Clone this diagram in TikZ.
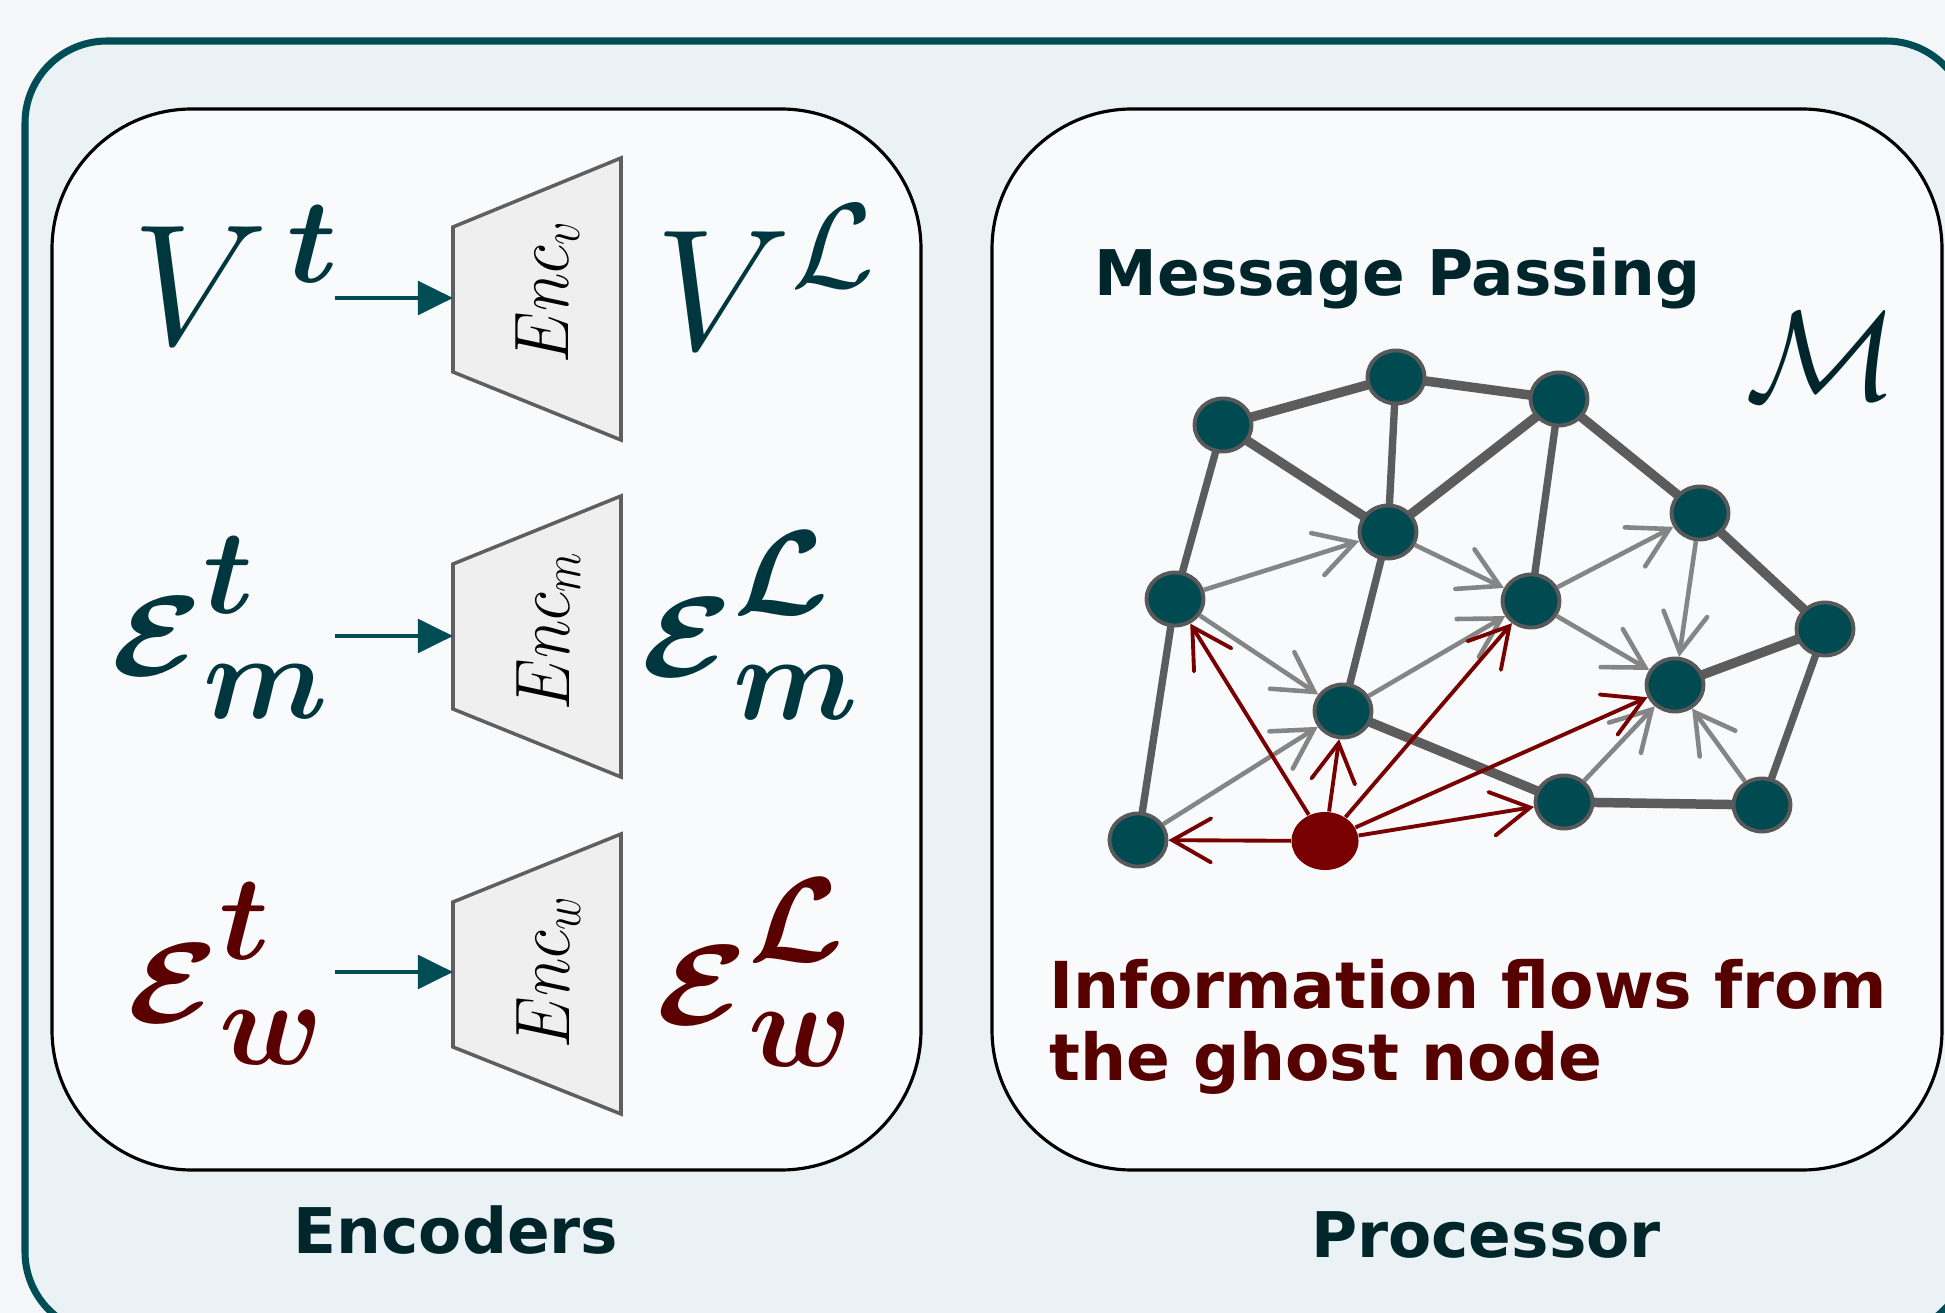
\RequirePackage{fix-cm}
\documentclass[tikz,border=0pt]{standalone}
\usepackage{fontspec}
\usepackage{graphicx}
\usepackage{bm}
\newfontfamily\dvs{DejaVu Sans}
\usetikzlibrary{arrows.meta,shapes.geometric}
\definecolor{bgc}{HTML}{F4F6F7}
\definecolor{outerfill}{HTML}{EAF2F5}
\definecolor{outerline}{HTML}{004D55}
\definecolor{panelfill}{HTML}{F8FAFC}
\definecolor{trapfill}{HTML}{EFEFEF}
\definecolor{trapline}{HTML}{5F5F5F}
\definecolor{encteal}{HTML}{004D55}
\definecolor{mathteal}{HTML}{00363D}
\definecolor{mathred}{HTML}{5A0000}
\definecolor{titlecol}{HTML}{00252A}
\definecolor{nodefill}{HTML}{004A52}
\definecolor{nodeline}{HTML}{595959}
\definecolor{edgecol}{HTML}{5C5C5C}
\definecolor{arrgray}{HTML}{858585}
\definecolor{ghostred}{HTML}{780000}
\definecolor{infored}{HTML}{560000}
\pgfdeclarelayer{back}
\pgfdeclarelayer{edges}
\pgfsetlayers{back,edges,main}
\newcommand{\calE}{\scalebox{0.77}[0.66]{\boldmath$\mathcal{E}$}}
\tikzset{
  panel/.style={draw=black, fill=panelfill, line width=0.9pt, rounded corners=1.4cm},
  trap/.style={draw=trapline, fill=trapfill, line width=1pt, line join=miter},
  encarrow/.style={draw=encteal, line width=1.3pt, -{Triangle[length=10pt,width=9.5pt]}},
  bigmath/.style={anchor=base west, inner sep=0, font=\fontsize{49}{55}\selectfont},
  enctext/.style={rotate=90, anchor=base, inner sep=0, font=\fontsize{22}{26}\selectfont},
  gnode/.style={ellipse, fill=nodefill, draw=nodeline, line width=1.1pt, minimum width=0.57cm, minimum height=0.53cm, inner sep=0},
  ghostnode/.style={ellipse, fill=ghostred, minimum width=0.67cm, minimum height=0.58cm, inner sep=0},
  thickedge/.style={draw=edgecol, line width=2.7pt},
  medge/.style={draw=edgecol, line width=2.1pt},
  garrow/.style={draw=arrgray, line width=1.3pt, -{Straight Barb[length=11pt,width=12.5pt,line cap=round]}},
  rarrow/.style={draw=ghostred, line width=1.1pt, -{Straight Barb[length=11pt,width=12.5pt,line cap=round]}},
  sanslabel/.style={inner sep=0, font=\dvs\bfseries\fontsize{17.9}{20.5}\selectfont}
}
\begin{document}
\begin{tikzpicture}[x=0.01cm,y=-0.01cm]
\useasboundingbox (0,0) rectangle (1945,1313);
\begin{pgfonlayer}{back}
  \fill[bgc] (0,0) rectangle (1945,1313);
  \draw[draw=outerline, fill=outerfill, line width=2pt, rounded corners=0.82cm] (25,41) rectangle (1968,1334);
  \draw[panel] (52,109) rectangle (921,1170);
  \draw[panel] (992,109) rectangle (1942,1170);
\end{pgfonlayer}

% ---------------- Encoders ----------------
\draw[trap] (453,227) -- (621,158) -- (621,440) -- (453,372) -- cycle;
\draw[trap] (453,564) -- (621,496) -- (621,777) -- (453,709) -- cycle;
\draw[trap] (453,902) -- (621,834) -- (621,1114) -- (453,1047) -- cycle;
\coordinate (encv) at (453,298);
\coordinate (encm) at (453,636);
\coordinate (encw) at (453,972);
\coordinate (srcv) at (335,298);
\coordinate (srcm) at (335,636);
\coordinate (srcw) at (335,972);

\node[enctext] (encvt) at (568,292) {\scalebox{0.85}[1]{$Enc_{v}$}};
\node[enctext] (encmt) at (569,631) {\scalebox{0.85}[1]{$Enc_{m}$}};
\node[enctext] (encwt) at (569,972) {\scalebox{0.85}[1]{$Enc_{w}$}};

\node[bigmath, text=mathteal] (Vt) at (132,345) {$V^{\kern0.11em\bm{t}}$};
\node[bigmath, text=mathteal] (VL) at (655,350) {$V^{\mathcal{L}}$};
\node[bigmath, text=mathteal] (Emt) at (111,676) {${\calE}^{\bm{t}}_{\bm{m}}$};
\node[bigmath, text=mathteal] (EmL) at (641,677) {${\calE}^{\bm{\mathcal{L}}}_{\bm{m}}$};
\node[bigmath, text=mathred] (Ewt) at (127,1022) {${\calE}^{\bm{t}}_{\bm{w}}$};
\node[bigmath, text=mathred] (EwL) at (656,1024) {${\calE}^{\bm{\mathcal{L}}}_{\bm{w}}$};

\draw[encarrow] (srcv) -- (encv);
\draw[encarrow] (srcm) -- (encm);
\draw[encarrow] (srcw) -- (encw);

\node[sanslabel, text=titlecol, anchor=base] (enclab) at (456,1253) {Encoders};

% ---------------- Processor ----------------
\node[sanslabel, text=titlecol, anchor=base west] (mp) at (1094,296) {Message Passing};
\node[inner sep=0, anchor=base west, text=titlecol, font=\fontsize{36}{40}\selectfont] (calM) at (1745,400) {$\mathcal{M}$};
\node[sanslabel, text=infored, anchor=north west, align=left, font=\dvs\bfseries\fontsize{18.4}{20.5}\selectfont] (info) at (1049,959) {Information flows from\\the ghost node};
\node[sanslabel, text=titlecol, anchor=base] (proclab) at (1486,1257) {Processor};

\node[gnode] (n1) at (1223,425) {};
\node[gnode] (n2) at (1396,377) {};
\node[gnode] (n3) at (1559,399) {};
\node[gnode] (n4) at (1700,513) {};
\node[gnode] (n5) at (1388,532) {};
\node[gnode] (n6) at (1175,599) {};
\node[gnode] (n7) at (1531,601) {};
\node[gnode] (n8) at (1825,629) {};
\node[gnode] (n9) at (1675,685) {};
\node[gnode] (n10) at (1343,711) {};
\node[gnode] (n11) at (1138,840) {};
\node[gnode] (n12) at (1564,802) {};
\node[gnode] (n13) at (1762,805) {};
\node[ghostnode] (g) at (1325,841) {};

\begin{pgfonlayer}{edges}
  \draw[thickedge] (n1.center) -- (n2.center);
  \draw[thickedge] (n2.center) -- (n3.center);
  \draw[thickedge] (n1.center) -- (n5.center);
  \draw[medge] (n2.center) -- (n5.center);
  \draw[thickedge] (n3.center) -- (n5.center);
  \draw[thickedge] (n3.center) -- (n4.center);
  \draw[medge] (n3.center) -- (n7.center);
  \draw[medge] (n1.center) -- (n6.center);
  \draw[medge] (n6.center) -- (n11.center);
  \draw[medge] (n5.center) -- (n10.center);
  \draw[thickedge] (n10.center) -- (n12.center);
  \draw[thickedge] (n12.center) -- (n13.center);
  \draw[medge] (n13.center) -- (n8.center);
  \draw[thickedge] (n8.center) -- (n9.center);
  \draw[thickedge] (n4.center) -- (n8.center);
\end{pgfonlayer}

\draw[garrow] (n6) -- (n5);
\draw[garrow] (n6) -- (n10);
\draw[garrow] (n5) -- (n7);
\draw[garrow] (n10) -- (n7);
\draw[garrow] (n7) -- (n4);
\draw[garrow] (n4) -- (n9);
\draw[garrow] (n7) -- (n9);
\draw[garrow] (n11) -- (n10);
\draw[garrow] (n12) -- (n9);
\draw[garrow] (n13) -- (n9);

\draw[rarrow] (g) -- (n11);
\draw[rarrow] (g) -- (n6);
\draw[rarrow] (g) -- (n10);
\draw[rarrow] (g) -- (n7);
\draw[rarrow] (g) -- (n9);
\draw[rarrow] (g) -- (n12);
\end{tikzpicture}
\end{document}
